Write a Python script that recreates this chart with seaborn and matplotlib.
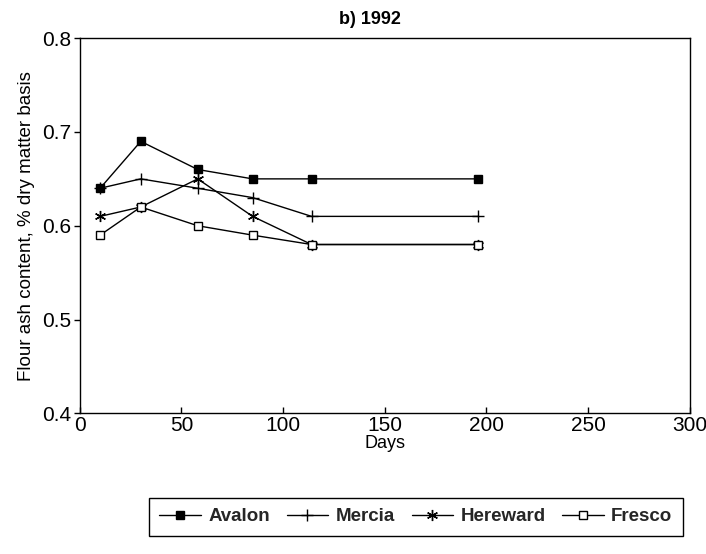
import matplotlib
matplotlib.use("Agg")
import matplotlib.pyplot as plt
import seaborn as sns
import pandas as pd

days = [10, 30, 58, 85, 114, 196]
avalon = [0.64, 0.69, 0.66, 0.65, 0.65, 0.65]
mercia = [0.64, 0.65, 0.64, 0.63, 0.61, 0.61]
hereward = [0.61, 0.62, 0.65, 0.61, 0.58, 0.58]
fresco = [0.59, 0.62, 0.60, 0.59, 0.58, 0.58]
varieties = ["Avalon", "Mercia", "Hereward", "Fresco"]
series = [avalon, mercia, hereward, fresco]

rows = []
for name, vals in zip(varieties, series):
    for d, v in zip(days, vals):
        rows.append({"Days": d, "Ash": v, "Variety": name})
df = pd.DataFrame(rows)

sns.set_theme(style="ticks")
plt.rcParams["font.family"] = ["Liberation Sans", "DejaVu Sans"]

fig = plt.figure(figsize=(7.06, 5.54), dpi=100)
ax = fig.add_axes([0.113, 0.254, 0.864, 0.677])

marker_map = {"Avalon": "s", "Mercia": "+", "Hereward": (6, 2, 0), "Fresco": "s"}
msize = {"Avalon": 6, "Mercia": 8, "Hereward": 8, "Fresco": 6}
for name in varieties:
    sub = df[df["Variety"] == name]
    kw = dict(markerfacecolor="black")
    if name == "Fresco":
        kw = dict(markerfacecolor="white", fillstyle="full")
    sns.lineplot(data=sub, x="Days", y="Ash", ax=ax, color="black", lw=1,
                 marker=marker_map[name], markersize=msize[name],
                 markeredgecolor="black", markeredgewidth=1, label=name, **kw)

ax.set_xlim(0, 300)
ax.set_ylim(0.4, 0.8)
ax.set_xticks([0, 50, 100, 150, 200, 250, 300])
ax.set_yticks([0.4, 0.5, 0.6, 0.7, 0.8])
ax.set_yticklabels(["0.4", "0.5", "0.6", "0.7", "0.8"])
ax.tick_params(axis="both", labelsize=15, color="black", labelcolor="black", width=1)
ax.tick_params(axis="x", direction="in", length=4, pad=2)
ax.tick_params(axis="y", direction="out", length=4, pad=2)
for s in ax.spines.values():
    s.set_visible(True)
    s.set_color("black")
    s.set_linewidth(1)
ax.set_xlabel("Days", fontsize=13, color="black", labelpad=0)
ax.set_ylabel("Flour ash content, % dry matter basis", fontsize=13.5, color="black", labelpad=5)
ax.set_title("b) 1992", fontsize=13, fontweight="bold", color="black", pad=10, x=0.475)

handles, labels = ax.get_legend_handles_labels()
ax.get_legend().remove()
leg = fig.legend(handles, labels, loc="center", bbox_to_anchor=(0.589, 0.067), ncol=4,
                 frameon=True, fancybox=False, edgecolor="black", framealpha=1,
                 prop={"weight": "bold", "size": 13.5}, handlelength=2.2,
                 columnspacing=0.9, handletextpad=0.4, borderpad=0.55)
leg.get_frame().set_linewidth(1)

fig.savefig("out.png", dpi=100)
